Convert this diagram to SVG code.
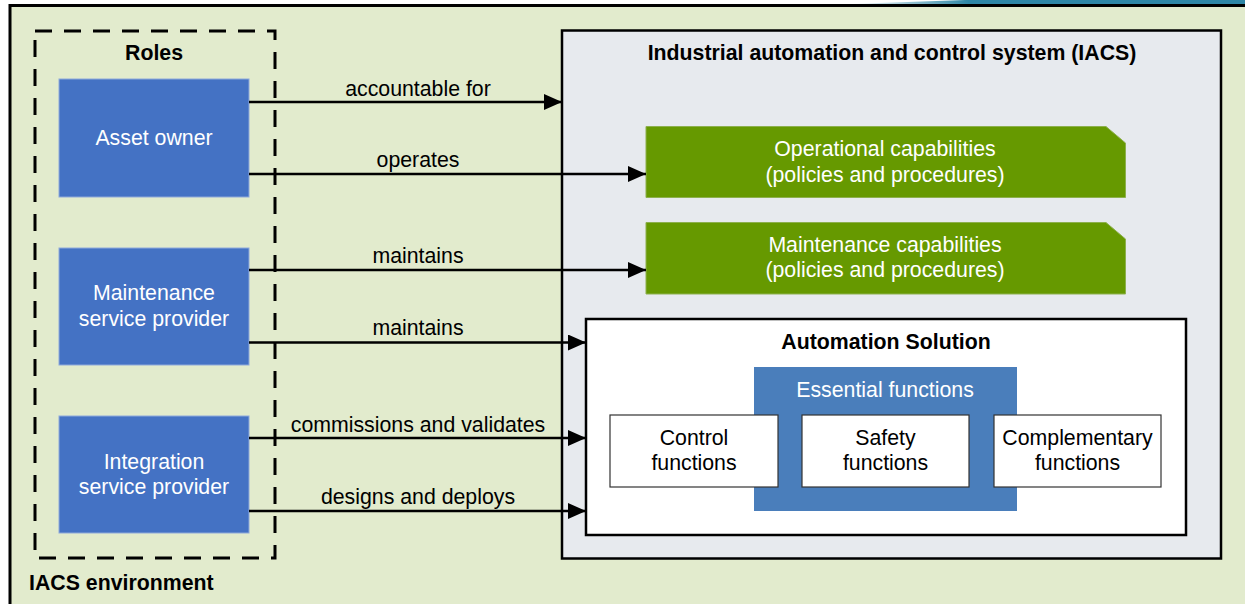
<svg xmlns="http://www.w3.org/2000/svg" width="1245" height="604" viewBox="0 0 1245 604">
<defs>
<linearGradient id="teal" x1="0" y1="0" x2="1" y2="0">
<stop offset="0" stop-color="#2E86A6" stop-opacity="0"/>
<stop offset="0.3" stop-color="#2E86A6" stop-opacity="1"/>
<stop offset="1" stop-color="#2E86A6"/>
</linearGradient>
<marker id="arr" viewBox="0 0 18 16" refX="18" refY="8" markerWidth="18" markerHeight="16" markerUnits="userSpaceOnUse" orient="auto">
<path d="M0,0 L18,8 L0,16 Z" fill="#000"/>
</marker>
<style>
text{font-family:"Liberation Sans",Arial,sans-serif;font-size:21.3px;}
.b{font-weight:bold;fill:#000;}
.lbl{fill:#000;text-anchor:middle;}
.wt{fill:#fff;text-anchor:middle;}
.bt{fill:#000;text-anchor:middle;}
.role{fill:#4472C4;stroke:#8EA9DB;stroke-width:1;}
.green{fill:#669900;stroke:#8DB04D;stroke-width:1;}
.fn{fill:#fff;stroke:#333;stroke-width:1.2;}
.con{stroke:#000;stroke-width:2.5;fill:none;marker-end:url(#arr);}
</style>
</defs>
<rect x="0" y="0" width="1245" height="604" fill="#fff"/>
<polygon points="850,4 965,0 1245,0 1245,5 850,5" fill="url(#teal)"/>
<g id="iacs-environment">
<rect x="10" y="5.5" width="1250" height="610" fill="#E2EBCD" stroke="#000" stroke-width="3"/>
<text class="b" x="29" y="590">IACS environment</text>
</g>
<g id="roles">
<rect x="35" y="31" width="240" height="527" fill="none" stroke="#000" stroke-width="3" stroke-dasharray="17,12"/>
<text class="b" x="154" y="60" text-anchor="middle">Roles</text>
</g>
<g id="asset-owner">
<rect class="role" x="59" y="79" width="190" height="118"/>
<text class="wt" x="154" y="145">Asset owner</text>
</g>
<g id="maintenance-service-provider">
<rect class="role" x="59" y="248" width="190" height="117"/>
<text class="wt" x="154" y="300">Maintenance</text>
<text class="wt" x="154" y="326">service provider</text>
</g>
<g id="integration-service-provider">
<rect class="role" x="59" y="416" width="190" height="117"/>
<text class="wt" x="154" y="469">Integration</text>
<text class="wt" x="154" y="494">service provider</text>
</g>
<g id="iacs">
<rect x="562" y="30.5" width="659" height="528" fill="#E7EAEE" stroke="#000" stroke-width="2.5"/>
<text class="b" x="892" y="60" text-anchor="middle">Industrial automation and control system (IACS)</text>
</g>
<g id="operational-capabilities">
<path class="green" d="M646,126.5 H1106 L1125.5,143 V197.5 H646 Z"/>
<text class="wt" x="885" y="156">Operational capabilities</text>
<text class="wt" x="885" y="182">(policies and procedures)</text>
</g>
<g id="maintenance-capabilities">
<path class="green" d="M646,222.5 H1106 L1125.5,239 V294 H646 Z"/>
<text class="wt" x="885" y="252">Maintenance capabilities</text>
<text class="wt" x="885" y="277">(policies and procedures)</text>
</g>
<g id="automation-solution">
<rect x="586" y="319" width="600" height="216" fill="#fff" stroke="#000" stroke-width="2.5"/>
<text class="b" x="886" y="349" text-anchor="middle">Automation Solution</text>
</g>
<g id="essential-functions">
<rect x="754" y="367" width="263" height="144" fill="#4A7EBB"/>
<text class="wt" x="885" y="397">Essential functions</text>
</g>
<g id="control-functions">
<rect class="fn" x="610" y="415" width="168" height="72"/>
<text class="bt" x="694" y="445">Control</text>
<text class="bt" x="694" y="470">functions</text>
</g>
<g id="safety-functions">
<rect class="fn" x="802" y="415" width="167" height="72"/>
<text class="bt" x="885.5" y="445">Safety</text>
<text class="bt" x="885.5" y="470">functions</text>
</g>
<g id="complementary-functions">
<rect class="fn" x="994" y="415" width="167" height="72"/>
<text class="bt" x="1077.5" y="445">Complementary</text>
<text class="bt" x="1077.5" y="470">functions</text>
</g>
<g id="connectors">
<line class="con" x1="249" y1="102" x2="562" y2="102"/>
<text class="lbl" x="418" y="96">accountable for</text>
<line class="con" x1="249" y1="174" x2="646" y2="174"/>
<text class="lbl" x="418" y="167">operates</text>
<line class="con" x1="249" y1="270" x2="646" y2="270"/>
<text class="lbl" x="418" y="263">maintains</text>
<line class="con" x1="249" y1="342.5" x2="586" y2="342.5"/>
<text class="lbl" x="418" y="335">maintains</text>
<line class="con" x1="249" y1="438" x2="586" y2="438"/>
<text class="lbl" x="418" y="432">commissions and validates</text>
<line class="con" x1="249" y1="511" x2="586" y2="511"/>
<text class="lbl" x="418" y="504">designs and deploys</text>
</g>
</svg>
